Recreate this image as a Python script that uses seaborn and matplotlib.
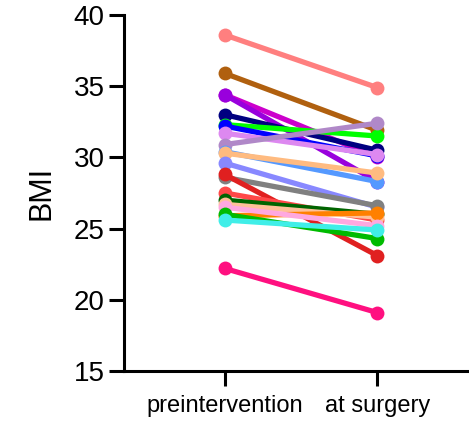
import matplotlib
matplotlib.use('Agg')
import matplotlib.pyplot as plt
import pandas as pd
import seaborn as sns

# Paired BMI values, one line per patient
timepoints = ['preintervention', 'at surgery']
bmi_pre = [38.6, 35.9, 34.4, 34.4, 33.0, 32.3, 32.2, 31.7, 30.9, 30.4, 30.3,
           29.6, 28.6, 28.8, 27.5, 27.0, 26.7, 25.9, 26.5, 26.0, 25.6, 22.2]
bmi_post = [34.9, 31.9, 30.0, 28.3, 30.5, 31.5, 30.1, 30.2, 32.4, 28.3, 28.9,
            26.5, 26.6, 23.1, 25.6, 26.0, 25.8, 26.1, 25.2, 24.3, 24.9, 19.1]
colors = ['#FF7F7F', '#B0600F', '#CC00CC', '#9900DD', '#000080', '#00FF00',
          '#0000FF', '#DD88F0', '#B088C8', '#5599FF', '#FFBB80', '#8888FF',
          '#808080', '#E02020', '#FF4848', '#006400', '#FFC098', '#FF8000',
          '#FFA8E0', '#00BB00', '#40EEE8', '#FF1080']

rows = []
for i, (a, b) in enumerate(zip(bmi_pre, bmi_post)):
    rows.append({'patient': i, 'time': 0, 'bmi': a})
    rows.append({'patient': i, 'time': 1, 'bmi': b})
df = pd.DataFrame(rows)

sns.set_style('ticks')
plt.rcParams['font.family'] = ['Liberation Sans', 'DejaVu Sans']
plt.rcParams['text.color'] = 'black'
plt.rcParams['axes.labelcolor'] = 'black'
plt.rcParams['xtick.color'] = 'black'
plt.rcParams['ytick.color'] = 'black'

fig = plt.figure(figsize=(4.69, 4.22), dpi=100)
ax = fig.add_axes([0.2644, 0.1209, 0.7356, 0.8436])

sns.lineplot(data=df, x='time', y='bmi', hue='patient', palette=colors,
             marker='o', markersize=10, markeredgewidth=0, linewidth=3.8,
             legend=False, ax=ax, sort=False)

ax.set_xlim(-0.66, 1.6)
ax.set_ylim(15, 40)
ax.set_yticks([15, 20, 25, 30, 35, 40])
ax.set_xticks([0, 1])
ax.set_xticklabels(timepoints, fontsize=17)
ax.tick_params(axis='y', labelsize=20, length=11, width=2.2, pad=3,
               color='black', labelcolor='black')
ax.tick_params(axis='x', length=11, width=2.2, pad=6,
               color='black', labelcolor='black')
ax.set_xlabel('')
ax.set_ylabel('BMI', fontsize=22, labelpad=12, color='black')
for s in ['top', 'right']:
    ax.spines[s].set_visible(False)
for s in ['left', 'bottom']:
    ax.spines[s].set_linewidth(2.2)
    ax.spines[s].set_color('black')
for line in ax.lines:
    line.set_clip_on(False)

fig.savefig('out.png', dpi=100)
